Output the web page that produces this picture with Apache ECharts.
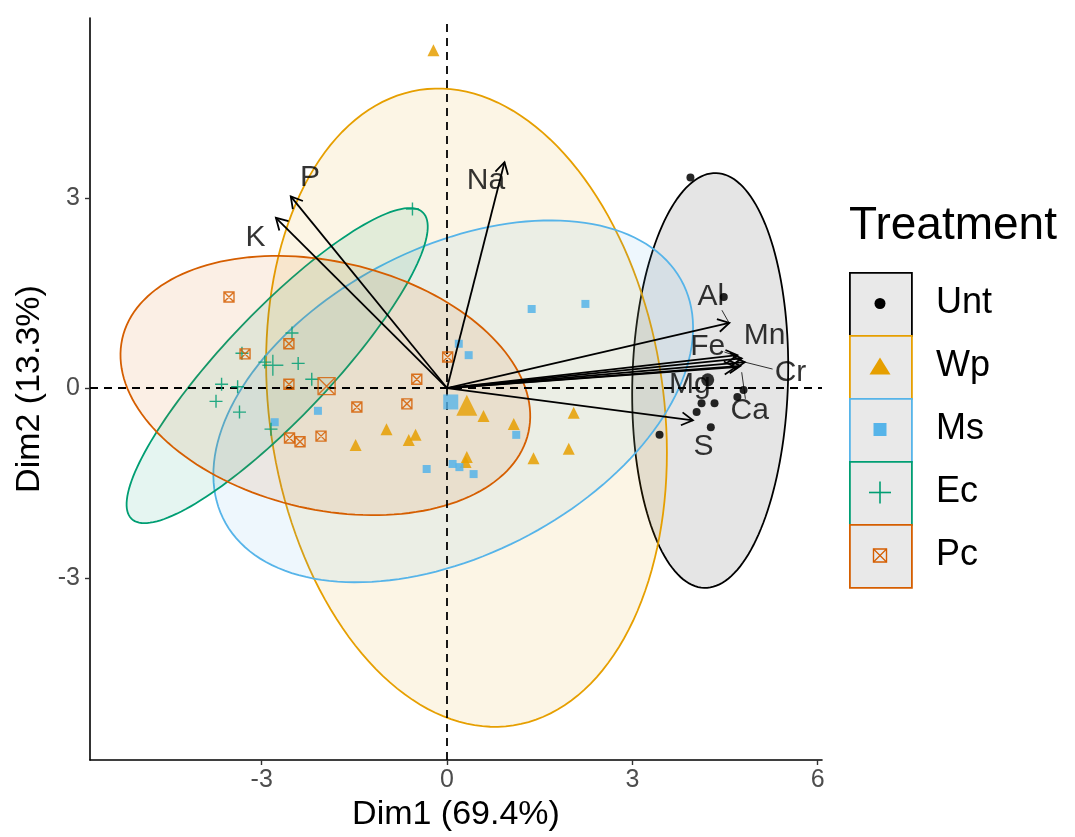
<!DOCTYPE html>
<html>
<head>
<meta charset="utf-8">
<script src="https://cdn.jsdelivr.net/npm/echarts@6/dist/echarts.min.js"></script>
<style>html,body{margin:0;padding:0;background:#fff;}#c{width:1075px;height:837px;}</style>
</head>
<body>
<div id="c"></div>
<script>
// ---------- data ----------
const groups = ['Unt', 'Wp', 'Ms', 'Ec', 'Pc'];
const colors = ['#000000', '#E69F00', '#56B4E9', '#009E73', '#D55E00'];

const untX = [3.94, 4.48, 4.80, 4.70, 4.12, 4.33, 4.04, 4.27, 3.44];
const untY = [3.33, 1.44, -0.03, -0.14, -0.24, -0.24, -0.38, -0.62, -0.74];
const wpX = [-0.22, 0.59, 1.08, 2.05, 1.97, 1.40, 0.32, 0.30, -0.98, -0.62, -0.51, -1.48];
const wpY = [5.34, -0.44, -0.57, -0.39, -0.96, -1.11, -1.09, -1.17, -0.65, -0.82, -0.74, -0.90];
const msX = [1.37, 2.24, 0.19, 0.35, 1.12, 0.09, 0.20, 0.43, -0.33, -2.09, -2.79];
const msY = [1.25, 1.33, 0.70, 0.52, -0.74, -1.20, -1.25, -1.36, -1.28, -0.36, -0.54];
const ecX = [-0.56, -2.51, -3.32, -2.95, -2.41, -2.19, -3.65, -3.39, -3.74, -3.36, -2.85];
const ecY = [2.83, 0.87, 0.55, 0.41, 0.39, 0.14, 0.06, 0.02, -0.21, -0.38, -0.65];
const pcX = [-3.53, -3.27, -2.56, -2.56, -0.49, 0.01, -1.46, -0.65, -2.04, -2.55, -2.38];
const pcY = [1.44, 0.54, 0.70, 0.06, 0.14, 0.49, -0.30, -0.25, -0.76, -0.79, -0.85];

// group mean points
const centX = [4.22, 0.32, 0.06, -2.82, -1.95];
const centY = [0.13, -0.27, -0.22, 0.36, 0.03];

// confidence ellipses: centre, semi-axes, orientation (degrees)
const ellCx = [4.26, 0.315, 0.10, -2.75, -1.97];
const ellCy = [0.12, -0.31, -0.21, 0.355, 0.04];
const ellA = [3.28, 5.08, 4.16, 3.38, 3.37];
const ellB = [1.26, 3.19, 2.44, 0.85, 1.96];
const ellAngle = [88.3, 98.6, 26.3, 45.7, -12.6];

// variable loadings (arrows) and label positions
const varNames = ['P', 'K', 'Na', 'Al', 'Fe', 'Mn', 'Cr', 'Mg', 'Ca', 'S'];
const varX = [-2.53, -2.77, 0.93, 4.57, 4.70, 4.77, 4.82, 4.67, 4.75, 3.98];
const varY = [3.03, 2.69, 3.57, 1.03, 0.52, 0.47, 0.41, 0.33, 0.35, -0.51];
const labX = [-2.22, -3.10, 0.63, 4.27, 4.22, 5.14, 5.56, 3.93, 4.90, 4.15];
const labY = [3.33, 2.38, 3.27, 1.44, 0.66, 0.82, 0.25, 0.05, -0.36, -0.92];
// label connector segments [fromX, fromY, toX, toY]
const segAl = [4.45, 1.23, 4.56, 1.04];
const segFe = [4.49, 0.57, 4.70, 0.50];
const segCr = [5.27, 0.30, 4.82, 0.41];
const segCa = [4.83, -0.17, 4.77, 0.25];

const xTicks = [-3, 0, 3, 6];
const yTicks = [-3, 0, 3];

// ---------- chart ----------
const FONT = 'Liberation Sans, Arial, Helvetica, sans-serif';
const chart = echarts.init(document.getElementById('c'), null, {renderer: 'canvas'});

function hexA(hex, a) {
  const r = parseInt(hex.slice(1, 3), 16), g = parseInt(hex.slice(3, 5), 16), b = parseInt(hex.slice(5, 7), 16);
  return 'rgba(' + r + ',' + g + ',' + b + ',' + a + ')';
}
const zip = (xs, ys) => xs.map((x, i) => [x, ys[i]]);

const symPlus = 'path://M5,0L5,10M0,5L10,5';
const symBoxX = 'path://M0,0L10,0L10,10L0,10ZM0,0L10,10M10,0L0,10';
const symbols = ['circle', 'triangle', 'rect', symPlus, symBoxX];
const smallSize = [8, 12, 8, 13, 10];
const bigSize = [13, 21, 15, 21, 17];
const groupX = [untX, wpX, msX, ecX, pcX];
const groupY = [untY, wpY, msY, ecY, pcY];

function itemStyleFor(i) {
  if (i === 3 || i === 4) {
    return {color: 'rgba(0,0,0,0)', borderColor: colors[i], borderWidth: 1.4};
  }
  return {color: colors[i]};
}

const ellipseData = groups.map((g, i) => [ellCx[i], ellCy[i], ellA[i], ellB[i], ellAngle[i], i]);

const series = [];
series.push({
  type: 'custom',
  name: 'ellipses',
  z: 1,
  silent: true,
  clip: true,
  data: ellipseData,
  renderItem: function (params, api) {
    const cx = api.value(0), cy = api.value(1), a = api.value(2), b = api.value(3);
    const ang = api.value(4) * Math.PI / 180;
    const gi = api.value(5);
    const pts = [];
    const N = 160;
    for (let k = 0; k <= N; k++) {
      const t = 2 * Math.PI * k / N;
      const ex = a * Math.cos(t), ey = b * Math.sin(t);
      pts.push(api.coord([cx + ex * Math.cos(ang) - ey * Math.sin(ang), cy + ex * Math.sin(ang) + ey * Math.cos(ang)]));
    }
    return {
      type: 'polygon',
      shape: {points: pts},
      style: {fill: hexA(colors[gi], 0.1), stroke: colors[gi], lineWidth: 1.8}
    };
  },
  markLine: {
    silent: true,
    symbol: ['none', 'none'],
    label: {show: false},
    lineStyle: {color: '#000', type: [8, 6], width: 1.8},
    z: 3,
    data: [{xAxis: 0}, {yAxis: 0}]
  }
});

groups.forEach((g, i) => {
  series.push({
    type: 'scatter',
    name: g,
    z: 4,
    symbol: symbols[i],
    symbolSize: smallSize[i],
    itemStyle: Object.assign({opacity: 0.85}, itemStyleFor(i)),
    data: zip(groupX[i], groupY[i])
  });
  series.push({
    type: 'scatter',
    name: g,
    z: 4,
    symbol: symbols[i],
    symbolSize: bigSize[i],
    itemStyle: itemStyleFor(i),
    data: [[centX[i], centY[i]]]
  });
});

// arrows
series.push({
  type: 'custom',
  name: 'variables',
  z: 6,
  silent: true,
  data: zip(varX, varY),
  renderItem: function (params, api) {
    const p0 = api.coord([0, 0]);
    const p1 = api.coord([api.value(0), api.value(1)]);
    const ang = Math.atan2(p1[1] - p0[1], p1[0] - p0[0]);
    const L = 13, h = Math.PI / 6;
    const a1 = [p1[0] - L * Math.cos(ang - h), p1[1] - L * Math.sin(ang - h)];
    const a2 = [p1[0] - L * Math.cos(ang + h), p1[1] - L * Math.sin(ang + h)];
    return {
      type: 'group',
      children: [
        {type: 'line', shape: {x1: p0[0], y1: p0[1], x2: p1[0], y2: p1[1]}, style: {stroke: '#000', lineWidth: 1.8}},
        {type: 'polyline', shape: {points: [a1, p1, a2]}, style: {stroke: '#000', lineWidth: 1.8, fill: null}}
      ]
    };
  }
});

// connector segments
series.push({
  type: 'custom',
  name: 'segments',
  z: 6,
  silent: true,
  data: [segAl, segFe, segCr, segCa],
  renderItem: function (params, api) {
    const p0 = api.coord([api.value(0), api.value(1)]);
    const p1 = api.coord([api.value(2), api.value(3)]);
    return {type: 'line', shape: {x1: p0[0], y1: p0[1], x2: p1[0], y2: p1[1]}, style: {stroke: '#000', lineWidth: 0.8}};
  }
});

// variable labels
series.push({
  type: 'scatter',
  name: 'varLabels',
  z: 7,
  silent: true,
  symbolSize: 1,
  itemStyle: {color: 'rgba(0,0,0,0)'},
  data: varNames.map((n, i) => ({value: [labX[i], labY[i]], name: n})),
  label: {
    show: true,
    position: 'inside',
    formatter: p => p.name,
    fontSize: 30,
    color: '#000',
    fontFamily: FONT
  }
});

// legend keys (boxes + symbols)
const keyLeft = 849, keyTop = 272, keyW = 62, keyH = 63;
const graphics = [];
groups.forEach((g, i) => {
  const y0 = keyTop + i * keyH;
  const cx = keyLeft + keyW / 2, cy = y0 + keyH / 2;
  graphics.push({type: 'rect', left: keyLeft, top: y0, z: 10, shape: {width: keyW, height: keyH},
    style: {fill: '#e9e9e9', stroke: colors[i], lineWidth: 1.8}});
  const parts = [];
  if (i === 0) parts.push({type: 'circle', shape: {cx: cx, cy: cy, r: 5.5}, style: {fill: colors[0]}});
  if (i === 1) parts.push({type: 'polygon', shape: {points: [[cx, cy - 9], [cx + 10.5, cy + 8], [cx - 10.5, cy + 8]]}, style: {fill: colors[1]}});
  if (i === 2) parts.push({type: 'rect', shape: {x: cx - 6.5, y: cy - 6.5, width: 13, height: 13}, style: {fill: colors[2]}});
  if (i === 3) {
    parts.push({type: 'line', shape: {x1: cx - 11, y1: cy, x2: cx + 11, y2: cy}, style: {stroke: colors[3], lineWidth: 1.6}});
    parts.push({type: 'line', shape: {x1: cx, y1: cy - 11, x2: cx, y2: cy + 11}, style: {stroke: colors[3], lineWidth: 1.6}});
  }
  if (i === 4) {
    parts.push({type: 'rect', shape: {x: cx - 6.5, y: cy - 6.5, width: 13, height: 13}, style: {fill: 'rgba(0,0,0,0)', stroke: colors[4], lineWidth: 1.4}});
    parts.push({type: 'line', shape: {x1: cx - 6.5, y1: cy - 6.5, x2: cx + 6.5, y2: cy + 6.5}, style: {stroke: colors[4], lineWidth: 1.2}});
    parts.push({type: 'line', shape: {x1: cx + 6.5, y1: cy - 6.5, x2: cx - 6.5, y2: cy + 6.5}, style: {stroke: colors[4], lineWidth: 1.2}});
  }
  parts.forEach(p => { p.z = 11; graphics.push(p); });
});

const option = {
  backgroundColor: '#ffffff',
  animation: false,
  textStyle: {fontFamily: FONT},
  title: {
    text: 'Treatment', left: 849, top: 203, padding: 0,
    textStyle: {fontSize: 46, fontWeight: 'normal', color: '#000', fontFamily: FONT}
  },
  legend: {
    orient: 'vertical', left: keyLeft, top: keyTop, padding: 0,
    itemWidth: 82, itemHeight: keyH, itemGap: 0,
    selectedMode: false, icon: 'rect',
    itemStyle: {color: 'rgba(0,0,0,0)', borderWidth: 0, opacity: 0},
    textStyle: {fontSize: 36, color: '#000', fontFamily: FONT, padding: [0, 0, 0, 0]},
    data: groups
  },
  grid: {left: 90, right: 253, top: 18, bottom: 77, containLabel: false},
  xAxis: {
    type: 'value', min: -5.78, max: 6.07,
    name: 'Dim1 (69.4%)', nameLocation: 'middle', nameGap: 33,
    nameTextStyle: {fontSize: 34, color: '#000', fontFamily: FONT},
    axisLine: {show: true, onZero: false, lineStyle: {color: '#000', width: 1.6}},
    axisTick: {show: true, length: 5, customValues: xTicks, lineStyle: {color: '#333', width: 1.4}},
    axisLabel: {show: true, customValues: xTicks, fontSize: 25, color: '#4d4d4d', margin: 8, fontFamily: FONT},
    splitLine: {show: false}
  },
  yAxis: {
    type: 'value', min: -5.88, max: 5.85,
    name: 'Dim2 (13.3%)', nameLocation: 'middle', nameGap: 43, nameRotate: 90,
    nameTextStyle: {fontSize: 34, color: '#000', fontFamily: FONT},
    axisLine: {show: true, onZero: false, lineStyle: {color: '#000', width: 1.6}},
    axisTick: {show: true, length: 5, customValues: yTicks, lineStyle: {color: '#333', width: 1.4}},
    axisLabel: {show: true, customValues: yTicks, fontSize: 25, color: '#4d4d4d', margin: 10, fontFamily: FONT},
    splitLine: {show: false}
  },
  graphic: graphics,
  series: series
};
chart.setOption(option);
</script>
</body>
</html>
